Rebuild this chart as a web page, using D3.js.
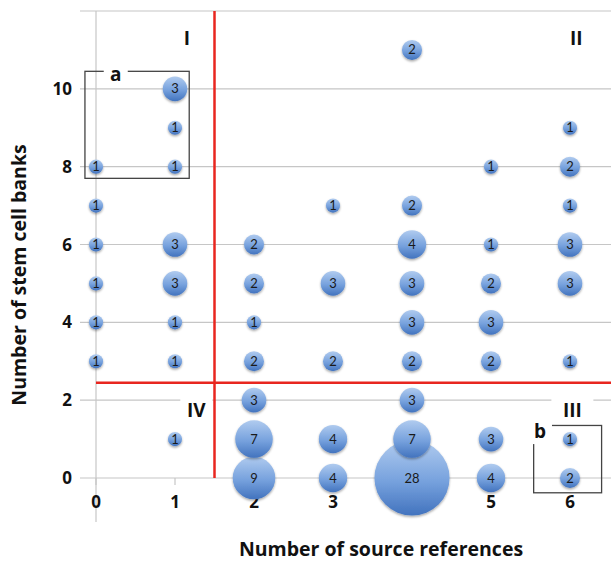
<!DOCTYPE html>
<html>
<head>
<meta charset="utf-8">
<script src="https://cdn.jsdelivr.net/npm/d3@7"></script>
<style>
  body { margin: 0; background: #fff; }
  svg { display: block; font-family: "Open Sans", Lato, sans-serif; }
</style>
</head>
<body>
<script>
// Bubble data: x = source references, y = stem cell banks, n = count
var xValues = [0, 0, 0, 0, 0, 0,
  1, 1, 1, 1, 1, 1, 1, 1,
  2, 2, 2, 2, 2, 2, 2,
  3, 3, 3, 3, 3,
  4, 4, 4, 4, 4, 4, 4, 4, 4,
  5, 5, 5, 5, 5, 5, 5,
  6, 6, 6, 6, 6, 6, 6, 6];
var yValues = [8, 7, 6, 5, 4, 3,
  10, 9, 8, 6, 5, 4, 3, 1,
  6, 5, 4, 3, 2, 1, 0,
  7, 5, 3, 1, 0,
  11, 7, 6, 5, 4, 3, 2, 1, 0,
  8, 6, 5, 4, 3, 1, 0,
  9, 8, 7, 6, 5, 3, 1, 0];
var counts = [1, 1, 1, 1, 1, 1,
  3, 1, 1, 3, 3, 1, 1, 1,
  2, 2, 1, 2, 3, 7, 9,
  1, 3, 2, 4, 4,
  2, 2, 4, 3, 3, 2, 3, 7, 28,
  1, 1, 2, 3, 2, 3, 4,
  1, 2, 1, 3, 3, 1, 1, 2];
var xTicks = [0, 1, 2, 3, 4, 5, 6];
var yTicks = [0, 2, 4, 6, 8, 10, 12];
var yLabels = [0, 2, 4, 6, 8, 10];
var quadrants = [
  { name: "I", x: 1.15, y: 11.3 },
  { name: "II", x: 6.08, y: 11.3 },
  { name: "III", x: 6.03, y: 1.75 },
  { name: "IV", x: 1.27, y: 1.75 }
];
var splitX = 1.5, splitY = 2.45;

var svgWidth = 611, svgHeight = 561;
var svg = d3.select("body").append("svg")
  .attr("width", svgWidth)
  .attr("height", svgHeight);

var xScale = d3.scaleLinear().domain([0, 6]).range([96, 570]);
var yScale = d3.scaleLinear().domain([0, 12]).range([478, 11]);
var rScale = d3.scaleSqrt().domain([0, 1]).range([0, 7.1]).clamp(false);

var defs = svg.append("defs");
var grad = defs.append("linearGradient")
  .attr("id", "bub").attr("x1", 0).attr("y1", 0).attr("x2", 0).attr("y2", 1);
grad.append("stop").attr("offset", "0%").attr("stop-color", "#b0cbef");
grad.append("stop").attr("offset", "55%").attr("stop-color", "#76a1dd");
grad.append("stop").attr("offset", "100%").attr("stop-color", "#4273be");
var shadow = defs.append("filter").attr("id", "shadow")
  .attr("x", "-30%").attr("y", "-30%").attr("width", "160%").attr("height", "170%");
shadow.append("feDropShadow").attr("dx", 0).attr("dy", 1.5)
  .attr("stdDeviation", 1.2).attr("flood-color", "#000").attr("flood-opacity", 0.35);

// gridlines
svg.append("g").selectAll("line").data(yTicks).join("line")
  .attr("x1", 80).attr("x2", svgWidth)
  .attr("y1", d => yScale(d)).attr("y2", d => yScale(d))
  .attr("stroke", "#c6c6c6").attr("stroke-width", 1.2);

// y axis line and x ticks
svg.append("line")
  .attr("x1", xScale(0)).attr("x2", xScale(0))
  .attr("y1", yScale(12)).attr("y2", 522)
  .attr("stroke", "#c6c6c6").attr("stroke-width", 1.2);
svg.append("g").selectAll("line").data(xTicks).join("line")
  .attr("x1", d => xScale(d)).attr("x2", d => xScale(d))
  .attr("y1", yScale(0)).attr("y2", yScale(0) + 7)
  .attr("stroke", "#c6c6c6").attr("stroke-width", 1.2);

// tick labels
svg.append("g").selectAll("text").data(yLabels).join("text")
  .attr("x", 72).attr("y", d => yScale(d) + 6)
  .attr("text-anchor", "end")
  .attr("font-size", 17).attr("font-weight", "bold").attr("fill", "#111")
  .text(d => d);
svg.append("g").selectAll("text").data(xTicks).join("text")
  .attr("x", d => xScale(d)).attr("y", 508)
  .attr("text-anchor", "middle")
  .attr("font-size", 17).attr("font-weight", "bold").attr("fill", "#111")
  .text(d => d);

// axis titles
svg.append("text")
  .attr("x", 381).attr("y", 556)
  .attr("text-anchor", "middle")
  .attr("font-size", 19.5).attr("font-weight", "bold").attr("fill", "#111")
  .text("Number of source references");
svg.append("text")
  .attr("transform", "translate(26, 275) rotate(-90)")
  .attr("text-anchor", "middle")
  .attr("font-size", 19.5).attr("font-weight", "bold").attr("fill", "#111")
  .text("Number of stem cell banks");

// quadrant divider lines
svg.append("line")
  .attr("x1", xScale(splitX)).attr("x2", xScale(splitX))
  .attr("y1", yScale(12)).attr("y2", yScale(0))
  .attr("stroke", "#e8261f").attr("stroke-width", 2.5);
svg.append("line")
  .attr("x1", xScale(0)).attr("x2", svgWidth)
  .attr("y1", yScale(splitY)).attr("y2", yScale(splitY))
  .attr("stroke", "#e8261f").attr("stroke-width", 2.5);

// quadrant labels with white backing
var ql = svg.append("g").selectAll("g").data(quadrants).join("g")
  .attr("transform", d => `translate(${xScale(d.x)}, ${yScale(d.y)})`);
ql.append("rect")
  .attr("x", d => -6 - d.name.length * 5).attr("y", -13)
  .attr("width", d => 12 + d.name.length * 10).attr("height", 26)
  .attr("fill", "#fff");
ql.append("text")
  .attr("text-anchor", "middle").attr("y", 7)
  .attr("font-size", 19).attr("font-weight", "bold").attr("fill", "#111")
  .text(d => d.name);

// boxes a and b
var boxes = [
  { name: "a", x0: -0.14, x1: 1.18, y0: 7.7, y1: 10.45, lx: 0.25, ly: 10.35 },
  { name: "b", x0: 5.54, x1: 6.4, y0: -0.38, y1: 1.35, lx: 5.62, ly: 1.18 }
];
boxes.forEach(function(b) {
  svg.append("rect")
    .attr("x", xScale(b.x0)).attr("y", yScale(b.y1))
    .attr("width", xScale(b.x1) - xScale(b.x0))
    .attr("height", yScale(b.y0) - yScale(b.y1))
    .attr("fill", "none").attr("stroke", "#444").attr("stroke-width", 1.3);
  svg.append("rect")
    .attr("x", xScale(b.lx) - 12).attr("y", yScale(b.ly) - 10)
    .attr("width", 24).attr("height", 22)
    .attr("fill", "#fff");
  svg.append("text")
    .attr("x", xScale(b.lx)).attr("y", yScale(b.ly) + 6)
    .attr("text-anchor", "middle")
    .attr("font-size", 19).attr("font-weight", "bold").attr("fill", "#111")
    .text(b.name);
});

// bubbles, larger first so small ones sit on top
var points = xValues.map((x, i) => ({ x: x, y: yValues[i], n: counts[i] }))
  .sort((a, b) => b.n - a.n);

var bub = svg.append("g").selectAll("g").data(points).join("g")
  .attr("transform", d => `translate(${xScale(d.x)}, ${yScale(d.y)})`);
bub.append("circle")
  .attr("r", d => rScale(d.n))
  .attr("fill", "url(#bub)")
  .attr("filter", "url(#shadow)");
bub.append("text")
  .attr("text-anchor", "middle").attr("y", 4.5)
  .attr("font-family", "Lato, sans-serif")
  .attr("font-size", 13).attr("fill", "#1a1a1a")
  .text(d => d.n);
</script>
</body>
</html>
